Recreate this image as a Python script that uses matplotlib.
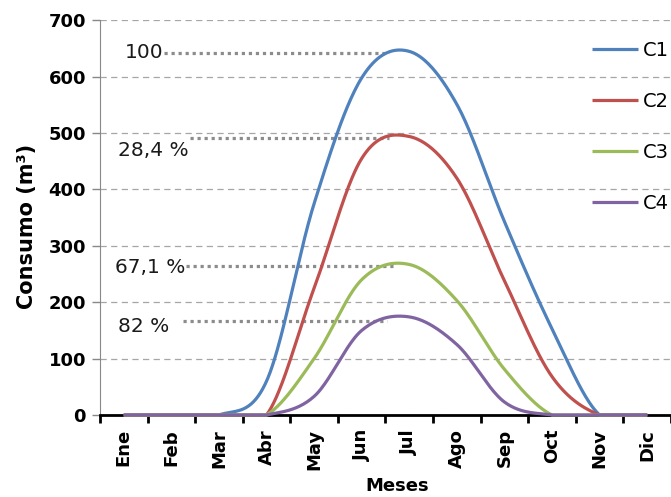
import numpy as np
import matplotlib
matplotlib.use("Agg")
import matplotlib.pyplot as plt

months = ["Ene", "Feb", "Mar", "Abr", "May", "Jun", "Jul", "Ago", "Sep", "Oct", "Nov", "Dic"]
c1 = [0, 0, 0, 60, 375, 598, 645, 551, 343, 153, 0, 0]
c2 = [0, 0, 0, 0, 225, 455, 494, 420, 238, 68, 0, 0]
c3 = [0, 0, 0, 0, 100, 240, 267, 203, 81, 0, 0, 0]
c4 = [0, 0, 0, 0, 33, 150, 174, 125, 23, 0, 0, 0]
series_names = ["C1", "C2", "C3", "C4"]
colors = ["#4F81BD", "#C0504D", "#9BBB59", "#8064A2"]

# percentage labels next to the peaks
notes = ["100", "28,4 %", "67,1 %", "82 %"]
note_levels = [643, 492, 265, 167]


def smooth(y, n=40):
    # catmull-rom like the excel smoothed line
    y = np.asarray(y, float)
    yp = np.concatenate([[y[0]], y, [y[-1]]])
    m = (yp[2:] - yp[:-2]) / 2
    t = np.linspace(0, 1, n, endpoint=False)
    h00 = 2 * t**3 - 3 * t**2 + 1
    h10 = t**3 - 2 * t**2 + t
    h01 = -2 * t**3 + 3 * t**2
    h11 = t**3 - t**2
    xs, ys = [], []
    for i in range(len(y) - 1):
        xs.append(i + t)
        ys.append(h00 * y[i] + h10 * m[i] + h01 * y[i + 1] + h11 * m[i + 1])
    xs.append([len(y) - 1])
    ys.append([y[-1]])
    # excel clips the dip below zero at the plot area
    return np.concatenate(xs), np.clip(np.concatenate(ys), 0, None)


fig = plt.figure(figsize=(6.71, 4.97), dpi=100)
ax = fig.add_axes([0.149, 0.165, 0.851, 0.794])

for vals, name, col in zip([c1, c2, c3, c4], series_names, colors):
    xs, ys = smooth(vals)
    ax.plot(xs, ys, color=col, lw=2.3, label=name, zorder=3, clip_on=False,
            solid_capstyle="butt")

# dotted guide lines from the labels to each peak
text_x = [0.02, -0.13, -0.19, -0.13]
text_dy = [0, -22, -3, -10]
line_x0 = [0.84, 1.40, 1.31, 1.25]
line_x1 = [5.58, 5.58, 5.69, 5.54]
for p, lab, tx, dy, x0, x1 in zip(note_levels, notes, text_x, text_dy, line_x0, line_x1):
    ax.plot([x0, x1], [p, p], color="#8c8c8c", lw=2.3, dashes=(1, 1.2),
            solid_capstyle="butt", dash_capstyle="butt", zorder=2)
    ax.text(tx, p + dy, lab, fontsize=14.5, va="center", ha="left", color="#1a1a1a")

ax.set_xlim(-0.5, 11.27)
ax.set_ylim(0, 700)
ax.set_yticks(np.arange(0, 701, 100))
ax.yaxis.grid(True, color="#a6a6a6", lw=0.9, dashes=(5, 3.5))
ax.set_axisbelow(True)

ax.set_xticks(np.arange(-0.5, 11.6, 1))
ax.set_xticklabels([])
ax.set_xticks(np.arange(12), minor=True)
ax.set_xticklabels(months, minor=True, rotation=90, fontsize=13, fontweight="bold")
ax.tick_params(axis="x", which="major", length=6, width=2, color="black", direction="out")
ax.tick_params(axis="x", which="minor", length=0, pad=10)
ax.tick_params(axis="y", length=6, width=1, color="#888888", pad=4, labelsize=13)
for lab in ax.get_yticklabels():
    lab.set_fontweight("bold")

ax.spines["top"].set_visible(False)
ax.spines["right"].set_visible(False)
ax.spines["left"].set_color("#888888")
ax.spines["bottom"].set_color("black")
ax.spines["bottom"].set_linewidth(2)

ax.set_xlabel("Meses", fontsize=13, fontweight="bold")
ax.xaxis.set_label_coords(0.52, -0.158)
ax.set_ylabel("Consumo (m³)", fontsize=15, fontweight="bold")
ax.yaxis.set_label_coords(-0.11, 0.477)

ax.legend(loc="upper left", bbox_to_anchor=(0.862, 0.948), frameon=False,
          fontsize=14, handlelength=2.35, handletextpad=0.25, labelspacing=1.64,
          borderaxespad=0, borderpad=0)

fig.savefig("out.png", dpi=100)
